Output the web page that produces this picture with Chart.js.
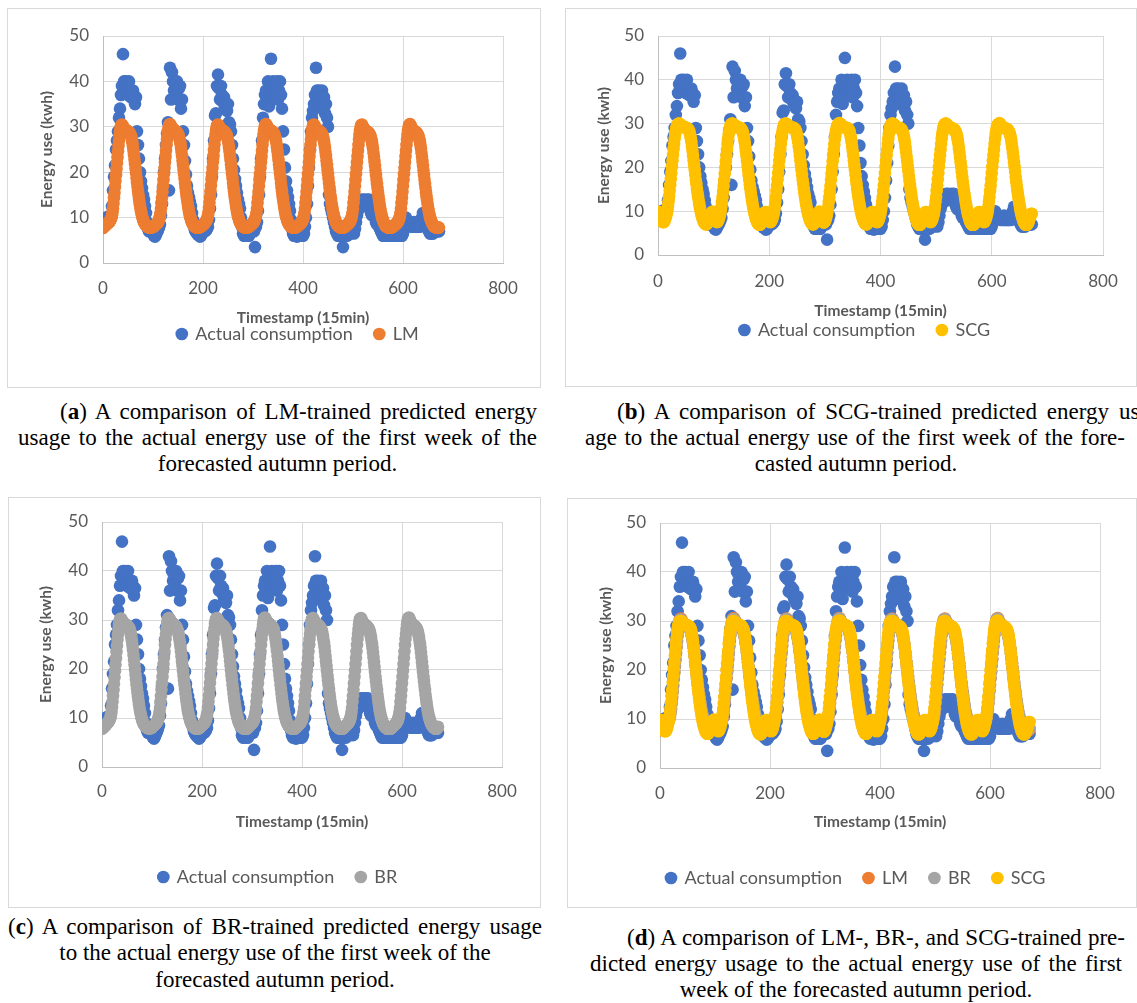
<!DOCTYPE html>
<html>
<head>
<meta charset="utf-8">
<title>Energy use forecasts, first autumn week</title>
<script src="https://cdn.jsdelivr.net/npm/chart.js@4.4.1/dist/chart.umd.min.js"></script>
<style>
  html, body { margin: 0; padding: 0; background: #fff; }
  body { position: relative; width: 1137px; height: 1003px; overflow: hidden; }
  .panel { position: absolute; border: 1px solid #d9d9d9; box-sizing: border-box; background: #fff; }
  .panel canvas { position: absolute; left: -1px; top: -1px; }
  .cap { position: absolute; font-family: "Liberation Serif", "Times New Roman", serif; font-size: 23px; line-height: 26px; color: #000; white-space: nowrap; }
  .just { text-align: justify; text-align-last: justify; }
  .mid { text-align: center; }
</style>
</head>
<body>

<div class="panel" style="left:7px;top:8px;width:534px;height:380px"><canvas id="chartA" width="534" height="380"></canvas></div>
<div class="panel" style="left:565px;top:8px;width:572px;height:379px"><canvas id="chartB" width="572" height="379"></canvas></div>
<div class="panel" style="left:8px;top:497px;width:533px;height:411px"><canvas id="chartC" width="533" height="411"></canvas></div>
<div class="panel" style="left:567px;top:498px;width:570px;height:410px"><canvas id="chartD" width="570" height="410"></canvas></div>

<div class="cap just" style="left:60px;top:399px;width:477px">(<b>a</b>) A comparison of LM-trained predicted energy</div>
<div class="cap just" style="left:18px;top:425px;width:519px">usage to the actual energy use of the first week of the</div>
<div class="cap mid" style="left:18px;top:451px;width:519px">forecasted autumn period.</div>

<div class="cap just" style="left:617px;top:399px;width:530px">(<b>b</b>) A comparison of SCG-trained predicted energy us-</div>
<div class="cap just" style="left:585px;top:425px;width:540px">age to the actual energy use of the first week of the fore-</div>
<div class="cap mid" style="left:585px;top:451px;width:542px">casted autumn period.</div>

<div class="cap just" style="left:8px;top:914px;width:534px">(<b>c</b>) A comparison of BR-trained predicted energy usage</div>
<div class="cap mid" style="left:8px;top:940px;width:534px">to the actual energy use of the first week of the</div>
<div class="cap mid" style="left:8px;top:967px;width:534px">forecasted autumn period.</div>

<div class="cap just" style="left:627px;top:925px;width:498px">(<b>d</b>) A comparison of LM-, BR-, and SCG-trained pre-</div>
<div class="cap just" style="left:590px;top:951px;width:532px">dicted energy usage to the actual energy use of the first</div>
<div class="cap mid" style="left:590px;top:977px;width:532px">week of the forecasted autumn period.</div>

<script>
// measured consumption, one sample every 2 timestamps (48 per day), 7 days + closing sample
const actualUse = [
  9.2, 9.0, 9.5, 9.8, 10.0, 10.2, 10.0, 9.8, 10.2, 12.5, 16.0, 19.0, 21.5, 25.0, 27.0, 29.0, 32.0, 34.0, 37.0, 39.0, 46.0, 40.0, 38.5, 40.0, 39.0, 37.0, 40.0, 38.0, 36.5, 37.5, 38.0, 37.0, 35.0, 36.5, 29.0, 26.0, 23.0, 20.0, 18.0, 16.5, 15.0, 14.0, 12.5, 11.0, 9.0, 7.5, 7.0, 7.0,
  7.0, 6.8, 6.5, 6.0, 5.8, 6.2, 6.8, 7.2, 7.8, 8.5, 10.5, 13.0, 16.5, 20.0, 23.0, 26.0, 28.5, 31.0, 16.0, 43.0, 36.0, 42.0, 40.0, 38.0, 39.5, 37.0, 40.0, 36.0, 38.5, 39.0, 34.0, 36.0, 29.0, 26.0, 22.5, 19.5, 17.0, 15.5, 14.5, 13.5, 12.5, 11.0, 9.5, 8.0, 7.2, 6.8, 6.5, 6.2,
  6.2, 5.8, 6.0, 6.5, 6.8, 7.0, 7.0, 7.2, 7.5, 8.0, 9.5, 12.0, 15.0, 19.0, 23.0, 27.0, 32.5, 33.0, 39.0, 41.5, 38.5, 36.0, 39.0, 37.0, 35.5, 36.5, 34.5, 35.0, 33.5, 35.0, 31.0, 30.5, 29.0, 26.0, 23.0, 20.5, 18.5, 17.0, 15.5, 14.0, 13.0, 12.0, 10.0, 8.0, 6.5, 6.0, 6.0, 6.2,
  6.5, 6.0, 6.0, 6.5, 7.0, 7.0, 7.5, 7.0, 3.5, 8.0, 9.0, 11.5, 15.0, 19.0, 23.0, 27.0, 32.0, 35.0, 37.0, 38.0, 36.0, 40.0, 34.5, 38.0, 45.0, 37.5, 40.0, 36.5, 39.0, 37.5, 40.0, 36.0, 38.0, 40.0, 37.0, 34.0, 29.0, 25.0, 21.0, 18.0, 16.0, 14.5, 13.0, 11.5, 9.5, 7.5, 6.5, 6.0,
  6.0, 6.0, 5.8, 6.0, 6.0, 6.0, 6.2, 6.0, 6.0, 6.5, 8.0, 10.0, 13.0, 17.0, 21.0, 25.0, 29.0, 32.0, 33.5, 35.0, 37.0, 43.0, 38.0, 36.0, 38.0, 34.5, 36.0, 38.0, 35.0, 36.5, 33.0, 35.0, 32.0, 30.0, 15.0, 13.0, 12.0, 11.0, 10.0, 9.0, 8.0, 7.0, 6.5, 6.0, 6.0, 6.0, 6.0, 6.0,
  3.5, 6.0, 6.0, 6.5, 6.0, 6.5, 6.5, 7.0, 6.5, 7.0, 7.0, 6.5, 7.5, 9.0, 10.5, 11.5, 12.0, 12.5, 13.0, 14.0, 13.5, 14.0, 12.5, 13.0, 14.0, 13.0, 14.0, 12.5, 11.0, 10.5, 13.5, 12.0, 10.0, 9.0, 8.5, 9.5, 8.0, 7.5, 7.0, 6.5, 6.0, 6.0, 6.5, 6.0, 6.0, 6.0, 6.5, 6.0,
  6.0, 6.0, 6.0, 6.5, 6.0, 6.0, 6.0, 6.5, 6.0, 6.0, 6.0, 6.0, 6.5, 8.5, 9.5, 10.0, 9.0, 8.5, 9.0, 8.5, 8.0, 8.5, 8.0, 9.0, 8.0, 8.5, 8.0, 8.0, 8.5, 8.0, 9.5, 10.0, 11.0, 10.0, 9.5, 8.5, 8.0, 7.5, 7.0, 6.5, 6.5, 6.5, 6.5, 7.0, 7.0, 7.0, 7.0, 7.0,
  7.0
];

// network forecasts, one value per timestamp (96 per day), 7 days + closing value
const lmForecast = [
  7.7, 7.9, 8.0, 8.1, 8.2, 8.3, 8.4, 8.5, 8.6, 8.7,
  8.8, 8.9, 9.0, 9.1, 9.3, 9.5, 9.7, 10.0, 10.5, 11.2,
  12.0, 13.1, 14.3, 15.5, 16.8, 18.1, 19.4, 20.7, 22.0, 23.3,
  24.6, 25.8, 27.0, 28.1, 29.0, 29.7, 30.2, 30.4, 30.5, 30.3,
  30.0, 29.8, 29.6, 29.5, 29.4, 29.3, 29.3, 29.2, 29.1, 29.0,
  29.0, 28.9, 28.8, 28.7, 28.5, 28.3, 28.0, 27.6, 27.0, 26.4,
  25.6, 24.7, 23.8, 22.8, 21.8, 20.8, 19.8, 18.8, 17.8, 16.8,
  15.9, 15.0, 14.2, 13.4, 12.7, 12.0, 11.4, 10.9, 10.4, 10.0,
  9.6, 9.3, 9.0, 8.8, 8.6, 8.4, 8.3, 8.2, 8.1, 8.0,
  7.9, 7.9, 7.8, 7.8, 7.8, 7.8,
  7.8, 7.8, 7.9, 7.9, 8.0, 8.0, 8.1, 8.2, 8.3, 8.4,
  8.5, 8.6, 8.7, 8.8, 9.0, 9.2, 9.5, 9.9, 10.4, 11.1,
  12.0, 13.2, 14.4, 15.7, 17.0, 18.3, 19.6, 20.9, 22.2, 23.5,
  24.8, 26.0, 27.2, 28.2, 29.1, 29.8, 30.3, 30.5, 30.6, 30.4,
  30.1, 29.9, 29.7, 29.6, 29.5, 29.4, 29.3, 29.2, 29.2, 29.1,
  29.0, 28.9, 28.8, 28.6, 28.4, 28.1, 27.8, 27.4, 26.8, 26.2,
  25.4, 24.5, 23.6, 22.6, 21.6, 20.6, 19.6, 18.6, 17.6, 16.7,
  15.8, 14.9, 14.1, 13.3, 12.6, 11.9, 11.3, 10.8, 10.3, 9.9,
  9.5, 9.2, 8.9, 8.7, 8.5, 8.3, 8.2, 8.1, 8.0, 7.9,
  7.9, 7.8, 7.8, 7.8, 7.8, 7.8,
  7.8, 7.9, 7.9, 8.0, 8.1, 8.1, 8.2, 8.3, 8.4, 8.5,
  8.6, 8.7, 8.9, 9.0, 9.2, 9.4, 9.6, 10.0, 10.5, 11.2,
  12.1, 13.3, 14.5, 15.8, 17.1, 18.4, 19.7, 21.0, 22.3, 23.6,
  24.9, 26.1, 27.3, 28.3, 29.2, 29.8, 30.3, 30.4, 30.5, 30.3,
  30.0, 29.8, 29.6, 29.5, 29.4, 29.3, 29.3, 29.2, 29.1, 29.0,
  29.0, 28.9, 28.7, 28.6, 28.4, 28.2, 27.9, 27.5, 26.9, 26.3,
  25.5, 24.6, 23.7, 22.7, 21.7, 20.7, 19.7, 18.7, 17.7, 16.7,
  15.8, 14.9, 14.1, 13.3, 12.6, 11.9, 11.3, 10.8, 10.3, 9.9,
  9.5, 9.2, 8.9, 8.7, 8.5, 8.3, 8.2, 8.1, 8.0, 7.9,
  7.9, 7.8, 7.8, 7.8, 7.8, 7.8,
  7.8, 7.8, 7.9, 7.9, 8.0, 8.1, 8.2, 8.3, 8.4, 8.5,
  8.6, 8.7, 8.8, 8.9, 9.1, 9.3, 9.6, 9.9, 10.4, 11.1,
  12.0, 13.2, 14.4, 15.7, 17.0, 18.3, 19.6, 20.9, 22.2, 23.5,
  24.8, 26.0, 27.2, 28.2, 29.1, 29.8, 30.3, 30.5, 30.6, 30.4,
  30.1, 29.9, 29.7, 29.5, 29.4, 29.3, 29.3, 29.2, 29.2, 29.1,
  29.0, 28.9, 28.8, 28.7, 28.5, 28.3, 27.9, 27.5, 26.9, 26.3,
  25.5, 24.6, 23.7, 22.7, 21.7, 20.7, 19.7, 18.7, 17.7, 16.7,
  15.8, 14.9, 14.1, 13.3, 12.6, 11.9, 11.3, 10.8, 10.3, 9.9,
  9.5, 9.2, 8.9, 8.7, 8.5, 8.3, 8.2, 8.1, 8.0, 7.9,
  7.9, 7.8, 7.8, 7.8, 7.8, 7.8,
  7.8, 7.8, 7.9, 7.9, 8.0, 8.1, 8.2, 8.3, 8.4, 8.5,
  8.6, 8.7, 8.8, 8.9, 9.1, 9.3, 9.5, 9.9, 10.4, 11.1,
  12.0, 13.2, 14.4, 15.7, 17.0, 18.3, 19.6, 20.9, 22.2, 23.5,
  24.8, 26.0, 27.2, 28.2, 29.1, 29.8, 30.3, 30.4, 30.5, 30.3,
  30.0, 29.8, 29.6, 29.5, 29.4, 29.3, 29.2, 29.2, 29.1, 29.0,
  28.9, 28.8, 28.7, 28.6, 28.4, 28.1, 27.8, 27.3, 26.8, 26.1,
  25.4, 24.5, 23.6, 22.6, 21.6, 20.6, 19.6, 18.6, 17.6, 16.7,
  15.8, 14.9, 14.1, 13.3, 12.6, 11.9, 11.3, 10.8, 10.3, 9.9,
  9.5, 9.2, 8.9, 8.7, 8.5, 8.3, 8.2, 8.1, 8.0, 7.9,
  7.9, 7.8, 7.8, 7.8, 7.8, 7.8,
  7.8, 7.8, 7.9, 7.9, 8.0, 8.1, 8.2, 8.3, 8.4, 8.5,
  8.6, 8.7, 8.8, 8.9, 9.1, 9.3, 9.5, 9.9, 10.4, 11.1,
  12.0, 13.2, 14.4, 15.7, 17.0, 18.3, 19.6, 20.9, 22.2, 23.5,
  24.8, 26.0, 27.2, 28.2, 29.1, 29.8, 30.3, 30.4, 30.5, 30.2,
  29.9, 29.7, 29.5, 29.4, 29.3, 29.2, 29.1, 29.0, 29.0, 28.9,
  28.8, 28.7, 28.6, 28.4, 28.2, 27.9, 27.6, 27.1, 26.6, 25.9,
  25.2, 24.3, 23.4, 22.4, 21.4, 20.4, 19.4, 18.4, 17.4, 16.5,
  15.6, 14.7, 13.9, 13.1, 12.4, 11.7, 11.1, 10.6, 10.1, 9.7,
  9.4, 9.1, 8.8, 8.6, 8.4, 8.2, 8.1, 8.0, 7.9, 7.9,
  7.8, 7.8, 7.8, 7.8, 7.8, 7.8,
  7.8, 7.8, 7.9, 7.9, 8.0, 8.1, 8.2, 8.3, 8.4, 8.5,
  8.6, 8.7, 8.8, 8.9, 9.1, 9.3, 9.5, 9.9, 10.4, 11.1,
  12.0, 13.2, 14.4, 15.7, 17.0, 18.3, 19.6, 20.9, 22.2, 23.5,
  24.8, 26.0, 27.2, 28.2, 29.1, 29.8, 30.3, 30.5, 30.6, 30.3,
  30.0, 29.8, 29.6, 29.4, 29.3, 29.2, 29.1, 29.0, 29.0, 28.9,
  28.8, 28.7, 28.6, 28.4, 28.2, 27.9, 27.6, 27.1, 26.6, 25.9,
  25.2, 24.3, 23.4, 22.4, 21.4, 20.4, 19.4, 18.4, 17.4, 16.5,
  15.6, 14.7, 13.9, 13.1, 12.4, 11.7, 11.1, 10.6, 10.1, 9.7,
  9.4, 9.1, 8.8, 8.6, 8.4, 8.2, 8.1, 8.0, 7.9, 7.9,
  7.8, 7.8, 7.8, 7.8, 7.8, 7.8,
  7.8
];

const brForecast = [
  7.8, 7.9, 8.0, 8.1, 8.2, 8.3, 8.4, 8.5, 8.6, 8.7,
  8.9, 9.0, 9.1, 9.2, 9.4, 9.6, 9.8, 10.1, 10.6, 11.3,
  12.2, 13.3, 14.5, 15.7, 17.0, 18.3, 19.6, 20.9, 22.2, 23.5,
  24.8, 26.0, 27.1, 28.1, 29.0, 29.6, 30.1, 30.2, 30.3, 30.1,
  29.9, 29.7, 29.5, 29.4, 29.3, 29.2, 29.2, 29.1, 29.0, 28.9,
  28.9, 28.8, 28.7, 28.6, 28.4, 28.2, 27.9, 27.5, 26.9, 26.3,
  25.6, 24.8, 23.9, 22.9, 21.9, 20.9, 19.9, 18.9, 17.9, 16.9,
  16.0, 15.1, 14.3, 13.5, 12.8, 12.1, 11.5, 11.0, 10.5, 10.1,
  9.7, 9.4, 9.1, 8.9, 8.7, 8.5, 8.4, 8.3, 8.2, 8.1,
  8.0, 8.0, 7.9, 7.9, 7.9, 7.9,
  7.9, 7.9, 8.0, 8.0, 8.1, 8.2, 8.3, 8.4, 8.5, 8.6,
  8.7, 8.8, 8.9, 9.0, 9.2, 9.4, 9.6, 10.0, 10.5, 11.2,
  12.1, 13.3, 14.5, 15.8, 17.1, 18.4, 19.7, 21.0, 22.3, 23.6,
  24.9, 26.1, 27.2, 28.2, 29.1, 29.7, 30.2, 30.3, 30.4, 30.2,
  30.0, 29.8, 29.6, 29.5, 29.4, 29.3, 29.2, 29.1, 29.1, 29.0,
  28.9, 28.8, 28.7, 28.5, 28.3, 28.0, 27.7, 27.2, 26.7, 26.0,
  25.3, 24.5, 23.6, 22.6, 21.6, 20.6, 19.6, 18.6, 17.7, 16.8,
  15.9, 15.0, 14.2, 13.4, 12.7, 12.0, 11.4, 10.9, 10.4, 10.0,
  9.6, 9.3, 9.0, 8.8, 8.6, 8.4, 8.3, 8.2, 8.1, 8.0,
  7.9, 7.9, 7.9, 7.8, 7.8, 7.8,
  7.8, 7.9, 8.0, 8.0, 8.1, 8.2, 8.3, 8.4, 8.5, 8.6,
  8.7, 8.8, 8.9, 9.0, 9.2, 9.4, 9.7, 10.1, 10.6, 11.3,
  12.2, 13.4, 14.6, 15.9, 17.2, 18.5, 19.8, 21.1, 22.4, 23.7,
  25.0, 26.2, 27.3, 28.3, 29.2, 29.7, 30.2, 30.3, 30.4, 30.1,
  29.9, 29.7, 29.5, 29.4, 29.3, 29.2, 29.2, 29.1, 29.0, 28.9,
  28.9, 28.8, 28.6, 28.5, 28.3, 28.1, 27.8, 27.3, 26.8, 26.1,
  25.4, 24.6, 23.7, 22.7, 21.7, 20.7, 19.7, 18.7, 17.8, 16.8,
  15.9, 15.0, 14.2, 13.4, 12.7, 12.0, 11.4, 10.9, 10.4, 10.0,
  9.6, 9.3, 9.0, 8.8, 8.6, 8.4, 8.3, 8.2, 8.1, 8.0,
  7.9, 7.9, 7.9, 7.8, 7.8, 7.8,
  7.8, 7.8, 7.9, 8.0, 8.1, 8.2, 8.3, 8.4, 8.5, 8.6,
  8.7, 8.8, 8.9, 9.0, 9.2, 9.4, 9.6, 10.0, 10.5, 11.2,
  12.1, 13.3, 14.5, 15.8, 17.1, 18.4, 19.7, 21.0, 22.3, 23.6,
  24.9, 26.1, 27.2, 28.2, 29.1, 29.7, 30.2, 30.4, 30.5, 30.2,
  30.0, 29.8, 29.6, 29.4, 29.3, 29.3, 29.2, 29.2, 29.1, 29.0,
  28.9, 28.8, 28.7, 28.6, 28.4, 28.1, 27.8, 27.3, 26.8, 26.1,
  25.4, 24.6, 23.7, 22.7, 21.7, 20.7, 19.7, 18.7, 17.8, 16.8,
  15.9, 15.0, 14.2, 13.4, 12.7, 12.0, 11.4, 10.9, 10.4, 10.0,
  9.6, 9.3, 9.0, 8.8, 8.6, 8.4, 8.3, 8.2, 8.1, 8.0,
  7.9, 7.9, 7.9, 7.8, 7.8, 7.8,
  7.8, 7.8, 7.9, 8.0, 8.1, 8.2, 8.3, 8.4, 8.5, 8.6,
  8.7, 8.8, 8.9, 9.0, 9.2, 9.4, 9.6, 10.0, 10.5, 11.2,
  12.1, 13.3, 14.5, 15.8, 17.1, 18.4, 19.7, 21.0, 22.3, 23.6,
  24.9, 26.1, 27.2, 28.2, 29.1, 29.7, 30.2, 30.3, 30.4, 30.1,
  29.9, 29.7, 29.5, 29.4, 29.3, 29.2, 29.1, 29.1, 29.0, 28.9,
  28.8, 28.7, 28.6, 28.5, 28.3, 28.0, 27.7, 27.2, 26.7, 26.0,
  25.3, 24.5, 23.6, 22.6, 21.6, 20.6, 19.6, 18.6, 17.7, 16.8,
  15.9, 15.0, 14.2, 13.4, 12.7, 12.0, 11.4, 10.9, 10.4, 10.0,
  9.6, 9.3, 9.0, 8.8, 8.6, 8.4, 8.3, 8.2, 8.1, 8.0,
  7.9, 7.9, 7.9, 7.8, 7.8, 7.8,
  7.8, 7.8, 7.9, 8.0, 8.1, 8.2, 8.3, 8.4, 8.5, 8.6,
  8.7, 8.8, 8.9, 9.0, 9.2, 9.4, 9.6, 10.0, 10.5, 11.2,
  12.1, 13.3, 14.5, 15.8, 17.1, 18.4, 19.7, 21.0, 22.3, 23.6,
  24.9, 26.1, 27.2, 28.2, 29.1, 29.7, 30.2, 30.3, 30.4, 30.1,
  29.8, 29.6, 29.4, 29.3, 29.2, 29.1, 29.0, 29.0, 28.9, 28.8,
  28.7, 28.6, 28.5, 28.3, 28.1, 27.8, 27.5, 27.0, 26.5, 25.8,
  25.1, 24.3, 23.4, 22.4, 21.4, 20.4, 19.4, 18.4, 17.5, 16.6,
  15.7, 14.8, 14.0, 13.2, 12.5, 11.8, 11.2, 10.7, 10.2, 9.8,
  9.5, 9.2, 8.9, 8.7, 8.5, 8.3, 8.2, 8.1, 8.0, 7.9,
  7.9, 7.8, 7.8, 7.8, 7.8, 7.8,
  7.8, 7.8, 7.9, 8.0, 8.1, 8.2, 8.3, 8.4, 8.5, 8.6,
  8.7, 8.8, 8.9, 9.0, 9.2, 9.4, 9.6, 10.0, 10.5, 11.2,
  12.1, 13.3, 14.5, 15.8, 17.1, 18.4, 19.7, 21.0, 22.3, 23.6,
  24.9, 26.1, 27.2, 28.2, 29.1, 29.7, 30.2, 30.4, 30.5, 30.2,
  29.9, 29.7, 29.5, 29.3, 29.2, 29.1, 29.0, 29.0, 28.9, 28.8,
  28.7, 28.6, 28.5, 28.3, 28.1, 27.8, 27.5, 27.0, 26.5, 25.8,
  25.1, 24.3, 23.4, 22.4, 21.4, 20.4, 19.4, 18.4, 17.5, 16.6,
  15.7, 14.8, 14.0, 13.2, 12.5, 11.8, 11.2, 10.7, 10.2, 9.8,
  9.5, 9.2, 8.9, 8.7, 8.5, 8.3, 8.2, 8.1, 8.0, 7.9,
  7.9, 7.8, 7.8, 7.8, 7.9, 8.0,
  8.2
];

const scgForecast = [
  9.6, 9.8, 9.8, 9.6, 9.2, 8.8, 8.3, 7.9, 7.6, 7.5,
  7.5, 7.6, 7.9, 8.2, 8.6, 9.1, 9.6, 10.3, 11.2, 12.3,
  13.4, 14.7, 16.0, 17.4, 18.8, 20.2, 21.6, 22.9, 24.2, 25.4,
  26.6, 27.6, 28.4, 29.0, 29.5, 29.8, 29.9, 30.0, 30.0, 29.9,
  29.8, 29.7, 29.5, 29.4, 29.3, 29.3, 29.2, 29.2, 29.2, 29.1,
  29.1, 29.0, 29.0, 28.9, 28.8, 28.6, 28.3, 27.9, 27.3, 26.6,
  25.8, 24.8, 23.8, 22.7, 21.6, 20.5, 19.4, 18.3, 17.2, 16.2,
  15.2, 14.3, 13.4, 12.6, 11.8, 11.1, 10.4, 9.8, 9.3, 8.8,
  8.4, 8.0, 7.7, 7.4, 7.2, 7.1, 7.0, 7.0, 7.1, 7.3,
  7.5, 7.9, 8.3, 8.7, 9.1, 9.4,
  9.5, 9.7, 9.9, 9.7, 9.4, 8.9, 8.5, 8.1, 7.8, 7.6,
  7.5, 7.6, 7.8, 8.1, 8.5, 9.0, 9.5, 10.2, 11.0, 12.1,
  13.2, 14.5, 15.8, 17.2, 18.6, 20.0, 21.4, 22.7, 24.0, 25.3,
  26.5, 27.5, 28.3, 28.9, 29.4, 29.7, 29.9, 30.0, 30.0, 29.9,
  29.8, 29.7, 29.5, 29.4, 29.3, 29.2, 29.2, 29.1, 29.1, 29.1,
  29.1, 29.0, 29.0, 28.9, 28.7, 28.5, 28.2, 27.8, 27.2, 26.5,
  25.7, 24.7, 23.7, 22.6, 21.5, 20.4, 19.3, 18.2, 17.1, 16.1,
  15.1, 14.2, 13.3, 12.5, 11.7, 11.0, 10.3, 9.7, 9.2, 8.7,
  8.3, 7.9, 7.6, 7.3, 7.1, 7.0, 6.9, 6.9, 7.0, 7.2,
  7.4, 7.8, 8.2, 8.6, 9.0, 9.3,
  9.6, 9.8, 9.8, 9.6, 9.3, 8.9, 8.4, 8.0, 7.7, 7.6,
  7.5, 7.6, 7.8, 8.1, 8.5, 9.0, 9.5, 10.2, 11.1, 12.2,
  13.3, 14.6, 15.9, 17.3, 18.7, 20.1, 21.5, 22.8, 24.1, 25.4,
  26.6, 27.6, 28.4, 29.0, 29.5, 29.8, 29.9, 30.0, 30.0, 29.9,
  29.8, 29.7, 29.5, 29.4, 29.3, 29.3, 29.2, 29.2, 29.2, 29.1,
  29.1, 29.0, 29.0, 28.9, 28.8, 28.6, 28.3, 27.9, 27.3, 26.6,
  25.8, 24.8, 23.8, 22.7, 21.6, 20.5, 19.4, 18.3, 17.2, 16.2,
  15.2, 14.3, 13.4, 12.6, 11.8, 11.1, 10.4, 9.8, 9.3, 8.8,
  8.4, 8.0, 7.7, 7.4, 7.2, 7.1, 7.0, 7.0, 7.1, 7.3,
  7.5, 7.9, 8.3, 8.7, 9.1, 9.4,
  9.6, 9.8, 9.9, 9.7, 9.3, 8.9, 8.4, 8.0, 7.7, 7.5,
  7.4, 7.5, 7.7, 8.0, 8.4, 8.9, 9.4, 10.1, 11.0, 12.1,
  13.2, 14.5, 15.8, 17.2, 18.6, 20.0, 21.4, 22.7, 24.0, 25.3,
  26.5, 27.5, 28.3, 28.9, 29.4, 29.7, 29.9, 30.0, 30.1, 30.0,
  29.9, 29.8, 29.6, 29.5, 29.4, 29.3, 29.2, 29.2, 29.1, 29.1,
  29.1, 29.0, 29.0, 28.9, 28.8, 28.6, 28.3, 27.9, 27.3, 26.6,
  25.8, 24.8, 23.8, 22.7, 21.6, 20.5, 19.4, 18.3, 17.2, 16.2,
  15.2, 14.3, 13.4, 12.6, 11.8, 11.1, 10.4, 9.8, 9.3, 8.8,
  8.4, 8.0, 7.7, 7.4, 7.2, 7.1, 7.0, 7.0, 7.1, 7.3,
  7.5, 7.9, 8.3, 8.7, 9.1, 9.4,
  9.6, 9.8, 9.8, 9.6, 9.3, 8.9, 8.4, 8.0, 7.7, 7.6,
  7.5, 7.6, 7.8, 8.1, 8.5, 9.0, 9.5, 10.2, 11.1, 12.2,
  13.3, 14.6, 15.9, 17.3, 18.7, 20.1, 21.5, 22.8, 24.1, 25.4,
  26.6, 27.6, 28.4, 29.0, 29.5, 29.8, 29.9, 30.0, 30.0, 29.9,
  29.8, 29.7, 29.5, 29.4, 29.3, 29.2, 29.1, 29.1, 29.0, 29.0,
  29.0, 28.9, 28.9, 28.8, 28.6, 28.4, 28.1, 27.7, 27.1, 26.4,
  25.6, 24.6, 23.6, 22.5, 21.4, 20.3, 19.2, 18.1, 17.0, 16.0,
  15.0, 14.1, 13.2, 12.4, 11.6, 10.9, 10.2, 9.6, 9.1, 8.6,
  8.2, 7.8, 7.5, 7.2, 7.0, 6.9, 6.9, 6.9, 7.0, 7.2,
  7.5, 7.9, 8.3, 8.7, 9.1, 9.4,
  9.6, 9.8, 9.8, 9.6, 9.3, 8.9, 8.4, 8.0, 7.7, 7.6,
  7.5, 7.6, 7.8, 8.1, 8.5, 9.0, 9.5, 10.2, 11.1, 12.2,
  13.3, 14.6, 15.9, 17.3, 18.7, 20.1, 21.5, 22.8, 24.1, 25.4,
  26.6, 27.6, 28.4, 29.0, 29.5, 29.8, 29.9, 30.0, 30.0, 29.8,
  29.7, 29.5, 29.3, 29.2, 29.1, 29.1, 29.0, 29.0, 28.9, 28.9,
  28.8, 28.8, 28.7, 28.6, 28.4, 28.2, 27.9, 27.5, 26.9, 26.2,
  25.4, 24.4, 23.4, 22.3, 21.2, 20.1, 19.0, 17.9, 16.8, 15.8,
  14.8, 13.9, 13.0, 12.2, 11.4, 10.7, 10.0, 9.4, 8.9, 8.5,
  8.1, 7.7, 7.4, 7.2, 7.0, 6.9, 6.9, 6.9, 7.0, 7.2,
  7.5, 7.9, 8.3, 8.7, 9.1, 9.4,
  9.6, 9.8, 9.8, 9.6, 9.3, 8.9, 8.4, 8.0, 7.7, 7.6,
  7.5, 7.6, 7.8, 8.1, 8.5, 9.0, 9.5, 10.2, 11.1, 12.2,
  13.3, 14.6, 15.9, 17.3, 18.7, 20.1, 21.5, 22.8, 24.1, 25.4,
  26.6, 27.6, 28.4, 29.0, 29.5, 29.8, 29.9, 30.0, 30.1, 29.9,
  29.7, 29.5, 29.3, 29.2, 29.1, 29.1, 29.0, 29.0, 28.9, 28.9,
  28.8, 28.8, 28.7, 28.6, 28.4, 28.2, 27.9, 27.5, 26.9, 26.2,
  25.4, 24.4, 23.4, 22.3, 21.2, 20.1, 19.0, 17.9, 16.8, 15.8,
  14.8, 13.9, 13.0, 12.2, 11.4, 10.7, 10.0, 9.4, 8.9, 8.5,
  8.1, 7.7, 7.4, 7.2, 7.0, 6.9, 6.9, 6.9, 7.0, 7.2,
  7.5, 7.9, 8.3, 8.7, 9.1, 9.4,
  9.4
];

// x positions (timestamp index, 15 min each) of the samples above
const actualTimes = actualUse.map((_, i) => i * 2);
const forecastTimes = lmForecast.map((_, i) => i);

const xAxisRange = [0, 800];
const xAxisStep = 200;
const yAxisRange = [0, 50];
const yAxisStep = 10;

const series = {
  actual: { label: 'Actual consumption', values: actualUse,   times: actualTimes,   color: '#4472C4', order: 4 },
  lm:     { label: 'LM',                 values: lmForecast,  times: forecastTimes, color: '#ED7D31', order: 3 },
  br:     { label: 'BR',                 values: brForecast,  times: forecastTimes, color: '#A5A5A5', order: 2 },
  scg:    { label: 'SCG',                values: scgForecast, times: forecastTimes, color: '#FFC000', order: 1 }
};

// layout of each panel in canvas pixels: plot box [left, top, right, bottom],
// y title centre x, offsets below the plot of tick labels / x title / legend row, legend centre x
const panels = [
  { id: 'chartA', keys: ['actual', 'lm'],              plot: [96, 28, 496, 255], yTitleX: 40, tickOff: 26, titleOff: 55, legendOff: 71,  legendX: 291 },
  { id: 'chartB', keys: ['actual', 'scg'],             plot: [93, 28, 538, 247], yTitleX: 39, tickOff: 27, titleOff: 56, legendOff: 75,  legendX: 300 },
  { id: 'chartC', keys: ['actual', 'br'],              plot: [94, 25, 494, 270], yTitleX: 38, tickOff: 25, titleOff: 55, legendOff: 110, legendX: 270 },
  { id: 'chartD', keys: ['actual', 'lm', 'br', 'scg'], plot: [93, 25, 533, 270], yTitleX: 39, tickOff: 26, titleOff: 54, legendOff: 110, legendX: 289 }
];

const FONT = 'Lato, "Open Sans", sans-serif';
const TEXT_GREY = '#595959';
const TICK_SIZE = 17;
const TITLE_SIZE = 15.5;
const LEGEND_SIZE = 18;
const LEGEND_GAP = 22;
const LEGEND_H = LEGEND_SIZE + LEGEND_GAP + 10;
const POINT_R = 6.3;

// moves the legend row to a fixed centre point after Chart.js has laid out the boxes
const legendPlacer = {
  id: 'legendPlacer',
  afterLayout(chart, args, opts) {
    const lg = chart.legend;
    if (!lg) return;
    const w = lg.right - lg.left;
    const h = lg.bottom - lg.top;
    lg.left = opts.x - w / 2;
    lg.right = lg.left + w;
    lg.top = opts.y - LEGEND_GAP - LEGEND_SIZE / 2;
    lg.bottom = lg.top + h;
  }
};

function buildChart(p) {
  const canvas = document.getElementById(p.id);
  const [L, T, R, B] = p.plot;
  const axisH = p.titleOff + 10;

  const datasets = p.keys.map(k => {
    const s = series[k];
    return {
      label: s.label,
      data: s.values.map((v, i) => ({ x: s.times[i], y: v })),
      backgroundColor: s.color,
      borderColor: s.color,
      borderWidth: 0,
      pointRadius: POINT_R,
      pointHoverRadius: POINT_R,
      pointBorderWidth: 0,
      order: s.order
    };
  });

  return new Chart(canvas.getContext('2d'), {
    type: 'scatter',
    data: { datasets },
    plugins: [legendPlacer],
    options: {
      responsive: false,
      animation: false,
      events: [],
      layout: {
        padding: { left: 0, top: T, right: canvas.width - R, bottom: canvas.height - B - axisH - LEGEND_H }
      },
      scales: {
        x: {
          type: 'linear',
          min: xAxisRange[0],
          max: xAxisRange[1],
          afterFit: (scale) => { scale.height = axisH; },
          ticks: {
            stepSize: xAxisStep,
            maxRotation: 0,
            autoSkip: false,
            padding: p.tickOff - TICK_SIZE * 0.6,
            color: TEXT_GREY,
            font: { family: FONT, size: TICK_SIZE }
          },
          grid: { color: '#d9d9d9', lineWidth: 1, drawTicks: false },
          border: { color: '#bfbfbf', width: 1 },
          title: {
            display: true,
            text: 'Timestamp (15min)',
            color: TEXT_GREY,
            font: { family: FONT, size: TITLE_SIZE, weight: 'bold' },
            padding: { top: 0, bottom: axisH - p.titleOff - TITLE_SIZE * 0.6 }
          }
        },
        y: {
          type: 'linear',
          min: yAxisRange[0],
          max: yAxisRange[1],
          afterFit: (scale) => { scale.width = L; },
          ticks: {
            stepSize: yAxisStep,
            padding: 14,
            color: TEXT_GREY,
            font: { family: FONT, size: TICK_SIZE }
          },
          grid: { color: '#d9d9d9', lineWidth: 1, drawTicks: false },
          border: { color: '#bfbfbf', width: 1 },
          title: {
            display: true,
            text: 'Energy use (kwh)',
            color: TEXT_GREY,
            font: { family: FONT, size: TITLE_SIZE, weight: 'bold' },
            padding: { top: p.yTitleX - TITLE_SIZE * 0.6, bottom: 0 }
          }
        }
      },
      plugins: {
        legendPlacer: { x: p.legendX, y: B + p.legendOff },
        legend: {
          display: true,
          position: 'bottom',
          fullSize: false,
          labels: {
            usePointStyle: true,
            boxWidth: 9,
            boxHeight: 9,
            padding: LEGEND_GAP,
            color: TEXT_GREY,
            font: { family: FONT, size: LEGEND_SIZE },
            // keep the legend in dataset order, not drawing order
            sort: (a, b) => a.datasetIndex - b.datasetIndex
          }
        },
        tooltip: { enabled: false },
        title: { display: false }
      }
    }
  });
}

panels.forEach(buildChart);
</script>
</body>
</html>
